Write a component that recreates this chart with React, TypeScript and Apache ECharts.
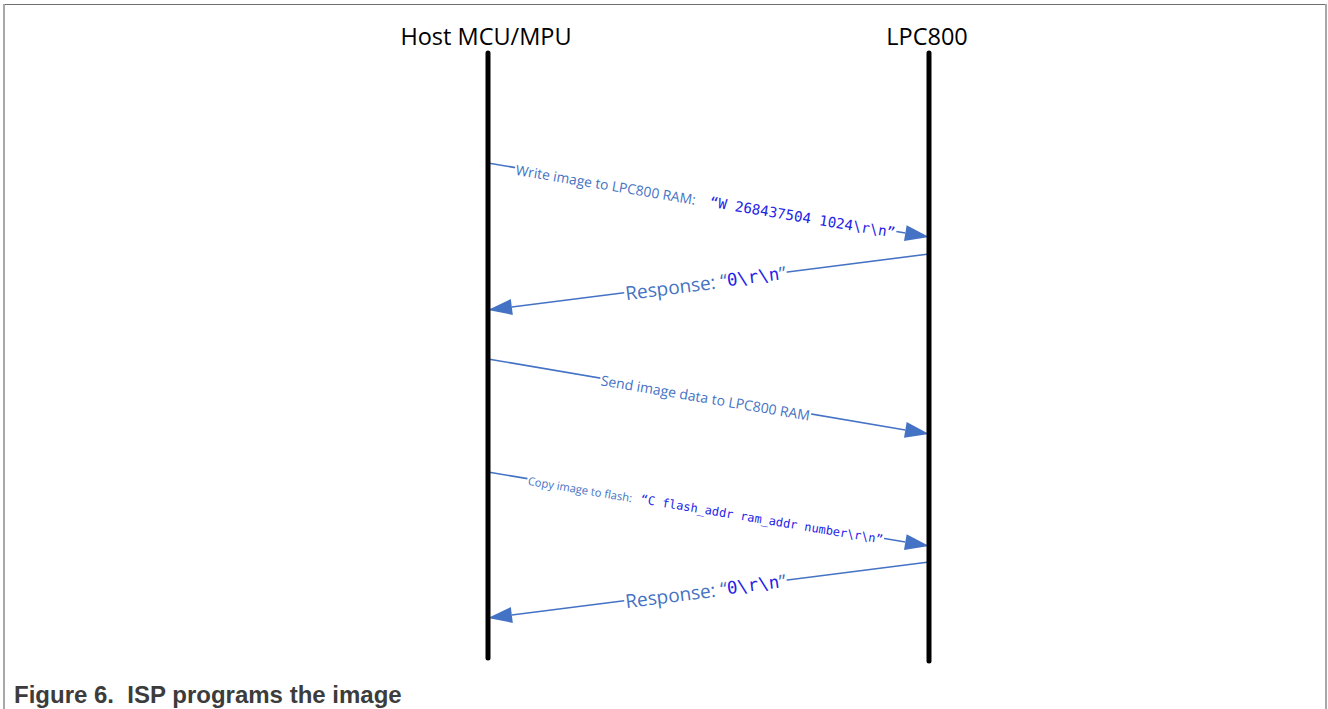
import React, { useEffect, useRef } from 'react';
import * as echarts from 'echarts';

// Participants (lifelines)
const participants = ['Host MCU/MPU', 'LPC800'];
const laneX = [488, 929];
const lifelineTop = [53, 53];
const lifelineBottom = [658, 661];

// Messages
const msgFrom = [0, 1, 0, 0, 1];
const msgTo = [1, 0, 1, 1, 0];
const msgStartY = [163, 254, 359, 472, 562];
const msgEndY = [237, 310, 434, 546, 618];
const msgText = [
  'Write image to LPC800 RAM:',
  'Response:',
  'Send image data to LPC800 RAM',
  'Copy image to flash:',
  'Response:',
];
const msgCommand = ['W 268437504 1024\\r\\n', '0\\r\\n', '', 'C flash_addr ram_addr number\\r\\n', '0\\r\\n'];

const caption = 'Figure 6.  ISP programs the image';

// styles
const LINE = '#4472C4';
const CODE = '#2424e6';
const labelSize = [13.8, 19, 14, 11.2, 19];
const codeSize = [14.2, 17.5, 0, 12, 17.5];
const quoteInCode = [true, false, false, true, false];
const gapText = ['    ', ' ', '', '   ', ' '];

const SANS = '"Open Sans", "Noto Sans", sans-serif';
const MONO = '"DejaVu Sans Mono", "Liberation Mono", monospace';

function renderMessage(params: any, api: any) {
  const i = api.value(4);
  const p1 = api.coord([api.value(0), api.value(1)]);
  const p2 = api.coord([api.value(2), api.value(3)]);
  const dx = p2[0] - p1[0];
  const dy = p2[1] - p1[1];
  const len = Math.hypot(dx, dy);
  const ux = dx / len;
  const uy = dy / len;
  const AL = 24;
  const AW = 8;
  const bx = p2[0] - ux * AL;
  const by = p2[1] - uy * AL;
  const nx = -uy;
  const ny = ux;
  const left = p1[0] < p2[0] ? p1 : p2;
  const right = p1[0] < p2[0] ? p2 : p1;
  const ang = Math.atan2(right[1] - left[1], right[0] - left[0]);
  const mx = (p1[0] + p2[0]) / 2;
  const my = (p1[1] + p2[1]) / 2;

  const q = quoteInCode[i] ? 'qc' : 'qa';
  let text = `{a|${msgText[i]}}`;
  if (msgCommand[i]) {
    text += `{a|${gapText[i]}}{${q}|“}{c|${msgCommand[i]}}{${q}|”}`;
  }
  return {
    type: 'group',
    children: [
      {
        type: 'line',
        shape: { x1: p1[0], y1: p1[1], x2: bx, y2: by },
        style: { stroke: LINE, lineWidth: 1.6 },
      },
      {
        type: 'polygon',
        shape: {
          points: [
            [p2[0], p2[1]],
            [bx + nx * AW, by + ny * AW],
            [bx - nx * AW, by - ny * AW],
          ],
        },
        style: { fill: LINE },
      },
      {
        type: 'text',
        x: mx - 3,
        y: my + 1,
        rotation: -ang,
        style: {
          text,
          align: 'center',
          verticalAlign: 'middle',
          backgroundColor: '#ffffff',
          padding: [0, 1],
          rich: {
            a: { fontFamily: SANS, fontSize: labelSize[i], fill: LINE },
            qa: { fontFamily: SANS, fontSize: labelSize[i], fill: LINE },
            qc: { fontFamily: MONO, fontSize: codeSize[i], fill: CODE },
            c: { fontFamily: MONO, fontSize: codeSize[i], fill: CODE },
          },
        },
      },
    ],
  };
}

function renderLane(params: any, api: any) {
  const i = api.value(3);
  const top = api.coord([api.value(0), api.value(1)]);
  const bot = api.coord([api.value(0), api.value(2)]);
  return {
    type: 'group',
    children: [
      {
        type: 'line',
        shape: { x1: top[0], y1: top[1], x2: bot[0], y2: bot[1] },
        style: { stroke: '#000000', lineWidth: 5, lineCap: 'round' },
      },
      {
        type: 'text',
        x: top[0] - 2,
        y: top[1] - 5,
        style: {
          text: participants[i],
          align: 'center',
          verticalAlign: 'bottom',
          fontFamily: SANS,
          fontSize: 23.5,
          fill: '#000000',
        },
      },
    ],
  };
}

export default function App() {
  const ref = useRef<HTMLDivElement>(null);
  useEffect(() => {
    const chart = echarts.init(ref.current!, null, { renderer: 'svg' });
    const laneData = participants.map((_, i) => [laneX[i], lifelineTop[i], lifelineBottom[i], i]);
    const msgData = msgFrom.map((f, i) => [laneX[f], msgStartY[i], laneX[msgTo[i]], msgEndY[i], i]);
    chart.setOption({
      animation: false,
      backgroundColor: '#ffffff',
      grid: { left: 0, right: 0, top: 0, bottom: 0 },
      xAxis: { type: 'value', min: 0, max: 1328, show: false },
      yAxis: { type: 'value', min: 0, max: 709, inverse: true, show: false },
      series: [
        {
          type: 'custom',
          name: 'messages',
          data: msgData,
          encode: { x: [0, 2], y: [1, 3] },
          renderItem: renderMessage,
          z: 2,
          silent: true,
        },
        {
          type: 'custom',
          name: 'lifelines',
          data: laneData,
          encode: { x: [0], y: [1, 2] },
          renderItem: renderLane,
          z: 3,
          silent: true,
        },
      ],
      graphic: [
        { type: 'line', shape: { x1: 4, y1: 4.5, x2: 1326, y2: 4.5 }, style: { stroke: '#6e6e6e', lineWidth: 1 } },
        { type: 'line', shape: { x1: 4, y1: 4, x2: 4, y2: 709 }, style: { stroke: '#a8a8a8', lineWidth: 2 } },
        { type: 'line', shape: { x1: 1326, y1: 4, x2: 1326, y2: 709 }, style: { stroke: '#a8a8a8', lineWidth: 2 } },
        {
          type: 'text',
          left: 14,
          top: 682,
          style: {
            text: caption,
            fontFamily: '"Liberation Sans", Arial, sans-serif',
            fontWeight: 'bold',
            fontSize: 24,
            fill: '#3c3c3c',
          },
        },
      ],
    });
    return () => chart.dispose();
  }, []);
  return <div ref={ref} style={{ position: 'fixed', left: 0, top: 0, width: 1328, height: 709 }} />;
}
